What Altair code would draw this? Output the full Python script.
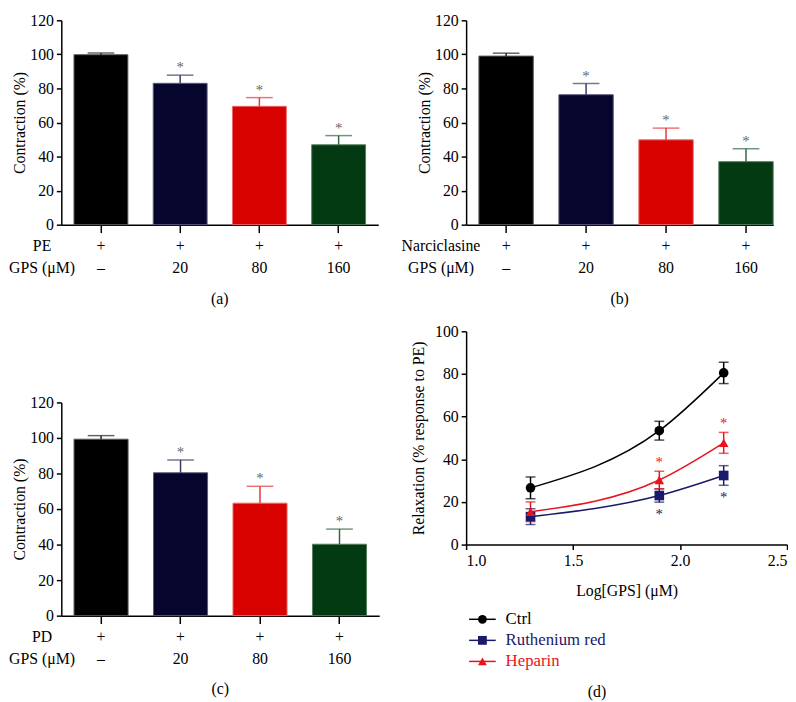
import altair as alt
import pandas as pd

FONT = "Liberation Serif"
FS = 16

# ---------------- bar panels (a), (b), (c) ----------------
gps_labels = ["–", "20", "80", "160"]
bar_colors = ["#000000", "#05052e", "#d90000", "#033a12"]
bar_edges = ["#5a5a5a", "#5a5a7c", "#e86a6a", "#557d5f"]
err_colors = ["#222222", "#3a3a62", "#e2383e", "#2f6a3f"]
star_flags = [False, True, True, True]

a_vals = [99.8, 83.0, 69.5, 46.9]
a_tops = [100.8, 87.8, 74.6, 52.3]
b_vals = [99.0, 76.3, 49.8, 37.0]
b_tops = [100.7, 82.9, 56.7, 44.6]
c_vals = [99.3, 80.4, 63.3, 40.2]
c_tops = [101.3, 87.6, 72.8, 48.7]

# ---------------- curve panel (d) ----------------
log_gps = [1.301, 1.903, 2.204]
series_names = ["Ctrl", "Ruthenium red", "Heparin"]
series_colors = ["#000000", "#1a1a6b", "#e8141c"]
series_shapes = ["circle", "square", "triangle-up"]
ctrl_mean = [26.6, 53.4, 80.5]
ctrl_sem = [5.1, 4.4, 5.0]
rr_mean = [13.1, 23.0, 32.4]
rr_sem = [3.7, 3.1, 4.6]
hep_mean = [15.4, 30.3, 47.7]
hep_sem = [4.6, 4.1, 4.9]
rr_star = [False, True, True]
hep_star = [False, True, True]


def bar_panel(vals, tops, row_name, caption, width, height, pad_outer, align, title_x, cap_offset):
    df = pd.DataFrame({
        "gps": gps_labels,
        "value": vals,
        "top": tops,
        "fill": bar_colors,
        "edge": bar_edges,
        "ecolor": err_colors,
        "star": ["*" if f else "" for f in star_flags],
    })
    xenc = alt.X(
        "gps:N", sort=gps_labels,
        scale=alt.Scale(paddingInner=0.32, paddingOuter=pad_outer, align=align),
        axis=alt.Axis(
            title=[row_name, "GPS (μM)"], labelExpr="['+', datum.label]",
            labelAngle=0, labelLineHeight=22, labelPadding=5, tickSize=8,
            titleAngle=0, titleAlign="center", titleBaseline="top",
            titleX=title_x, titleY=13, titleLineHeight=22,
        ),
    )
    yscale = alt.Scale(domain=[0, 120])
    yaxis = alt.Axis(title="Contraction (%)", values=[0, 20, 40, 60, 80, 100, 120],
                     tickSize=5, labelPadding=3, titlePadding=2, labelOverlap=False)
    base = alt.Chart(df).encode(x=xenc)
    bars = base.mark_bar(strokeWidth=1).encode(
        y=alt.Y("value:Q", scale=yscale, axis=yaxis),
        color=alt.Color("fill:N", scale=None),
        stroke=alt.Stroke("edge:N", scale=None),
    )
    rule = base.mark_rule(strokeWidth=1.5).encode(
        y=alt.Y("value:Q", scale=yscale, axis=yaxis), y2="top:Q",
        color=alt.Color("ecolor:N", scale=None))
    cap = base.mark_tick(thickness=1.5, size=27).encode(
        y=alt.Y("top:Q", scale=yscale, axis=yaxis),
        color=alt.Color("ecolor:N", scale=None))
    star = base.mark_text(dy=-8, fontSize=15, color="#666666", font=FONT).encode(
        y=alt.Y("top:Q", scale=yscale, axis=yaxis), text="star:N")
    return alt.layer(bars, rule, cap, star).properties(
        width=width, height=height,
        title=alt.TitleParams(caption, orient="bottom", anchor="middle", offset=cap_offset,
                              fontSize=FS, font=FONT, fontWeight="normal"),
    )


panel_a = bar_panel(a_vals, a_tops, "PE", "(a)", 321, 207, 0.16, 0.5, -20, 16)
panel_b = bar_panel(b_vals, b_tops, "Narciclasine", "(b)", 311, 207, 0.08, 1.0, -26, 16)
panel_c = bar_panel(c_vals, c_tops, "PD", "(c)", 322, 216, 0.16, 0.5, -20, 15)

# ---- panel (d) data ----
rows = []
for name, means, sems, stars, pos in [
    ("Ctrl", ctrl_mean, ctrl_sem, [False] * 3, "none"),
    ("Ruthenium red", rr_mean, rr_sem, rr_star, "below"),
    ("Heparin", hep_mean, hep_sem, hep_star, "above"),
]:
    for x, m, s, st in zip(log_gps, means, sems, stars):
        rows.append({"series": name, "x": x, "mean": m, "lo": m - s, "hi": m + s,
                     "star_up": "*" if (st and pos == "above") else "",
                     "star_dn": "*" if (st and pos == "below") else ""})
ddf = pd.DataFrame(rows)

col_scale = alt.Scale(domain=series_names, range=series_colors)
shape_scale = alt.Scale(domain=series_names, range=series_shapes)

dx = alt.X("x:Q", scale=alt.Scale(domain=[1.0, 2.5]),
           axis=alt.Axis(title="Log[GPS] (μM)", values=[1.0, 1.5, 2.0, 2.5], format=".1f",
                         tickSize=5, labelPadding=3, titlePadding=15))
dscale = alt.Scale(domain=[0, 100])
daxis = alt.Axis(title="Relaxation (% response to PE)", values=[0, 20, 40, 60, 80, 100],
                 tickSize=5, labelPadding=3, titlePadding=8, labelOverlap=False)

dbase = alt.Chart(ddf).encode(x=dx)
d_line = dbase.mark_line(interpolate="monotone", strokeWidth=1.5).encode(
    y=alt.Y("mean:Q", scale=dscale, axis=daxis),
    color=alt.Color("series:N", scale=col_scale, legend=None), detail="series:N")
d_rule = dbase.mark_rule(strokeWidth=1.5).encode(
    y=alt.Y("lo:Q", scale=dscale, axis=daxis), y2="hi:Q",
    color=alt.Color("series:N", scale=col_scale, legend=None))
d_cap_hi = dbase.mark_tick(orient="horizontal", size=10, thickness=1.5).encode(
    y=alt.Y("hi:Q", scale=dscale, axis=daxis),
    color=alt.Color("series:N", scale=col_scale, legend=None))
d_cap_lo = dbase.mark_tick(orient="horizontal", size=10, thickness=1.5).encode(
    y=alt.Y("lo:Q", scale=dscale, axis=daxis),
    color=alt.Color("series:N", scale=col_scale, legend=None))
d_pts = dbase.mark_point(filled=True, size=95, opacity=1).encode(
    y=alt.Y("mean:Q", scale=dscale, axis=daxis),
    color=alt.Color("series:N", scale=col_scale, legend=None),
    shape=alt.Shape("series:N", scale=shape_scale, legend=None))
d_star_up = dbase.mark_text(dy=-9, fontSize=15, font=FONT).encode(
    y=alt.Y("hi:Q", scale=dscale, axis=daxis), text="star_up:N",
    color=alt.Color("series:N", scale=col_scale, legend=None))
d_star_dn = dbase.mark_text(dy=12, fontSize=15, font=FONT).encode(
    y=alt.Y("lo:Q", scale=dscale, axis=daxis), text="star_dn:N",
    color=alt.Color("series:N", scale=col_scale, legend=None))

panel_d = alt.layer(d_line, d_rule, d_cap_hi, d_cap_lo, d_pts, d_star_up, d_star_dn).properties(
    width=325, height=216)

# ---- legend for (d) ----
ldf = pd.DataFrame({"series": series_names, "color": series_colors, "shape": series_shapes})
ly = alt.Y("series:N", sort=series_names, axis=None,
           scale=alt.Scale(paddingInner=0, paddingOuter=0))
lbase = alt.Chart(ldf).encode(y=ly)
l_rule = lbase.mark_rule(strokeWidth=1.5).encode(
    x=alt.value(3), x2=alt.value(30), color=alt.Color("color:N", scale=None))
l_pt = lbase.mark_point(filled=True, size=80, opacity=1).encode(
    x=alt.value(16.5), color=alt.Color("color:N", scale=None),
    shape=alt.Shape("shape:N", scale=None))
l_txt = lbase.mark_text(align="left", baseline="middle", fontSize=17, font=FONT).encode(
    x=alt.value(40), text="series:N", color=alt.Color("color:N", scale=None))
legend_d = alt.layer(l_rule, l_pt, l_txt).properties(
    width=325, height=64,
    title=alt.TitleParams("(d)", orient="bottom", anchor="middle", offset=12, dx=-30,
                          fontSize=FS, font=FONT, fontWeight="normal"),
)

col1 = alt.vconcat(panel_a, panel_c, spacing=89)
d_block = alt.vconcat(panel_d, legend_d, spacing=10)
col2 = alt.concat(panel_b, d_block, columns=1, align="none", spacing=17)

chart = alt.hconcat(col1, col2, spacing=22).properties(
    padding={"top": 0, "left": 0, "right": 0, "bottom": 0}
).configure_axis(
    labelFont=FONT, titleFont=FONT, labelFontSize=FS, titleFontSize=FS,
    labelColor="#000000", titleColor="#000000", titleFontWeight="normal",
    domainColor="#000000", tickColor="#000000", domainWidth=1.5, tickWidth=1.5, grid=False,
).configure_view(stroke=None).configure_text(font=FONT).configure_title(font=FONT)

chart.save("out.html", embed_options={"renderer": "svg", "actions": False})
